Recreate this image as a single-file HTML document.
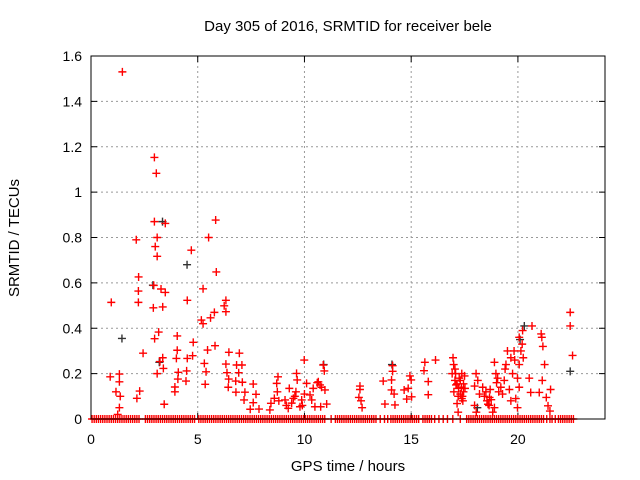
<!DOCTYPE html>
<html><head><meta charset="utf-8"><style>
body{margin:0;background:#fff}
svg{display:block;font-family:"Liberation Sans",sans-serif}
</style></head><body>
<svg id="chart" width="640" height="480" viewBox="0 0 640 480">
<text x="348" y="31" text-anchor="middle" font-size="15">Day 305 of 2016, SRMTID for receiver bele</text>
<text x="348" y="471" text-anchor="middle" font-size="15">GPS time / hours</text>
<text transform="translate(19,238) rotate(-90)" text-anchor="middle" font-size="15">SRMTID / TECUs</text>
<g id="grid"></g><g id="ticks"></g><g id="pts"></g>
<rect x="91" y="56" width="514" height="363" fill="none" stroke="#000" stroke-width="1"/>
</svg>
<script>
const xTicks=[0,5,10,15,20];
const yTicks=[0,0.2,0.4,0.6,0.8,1,1.2,1.4,1.6];
const yTickLabels=["0","0.2","0.4","0.6","0.8","1","1.2","1.4","1.6"];
const redX=[1.47,2.97,3.06,2.97,3.48,2.12,3.1,3.01,3.1,5.84,5.51,4.7,5.87,2.23,2.22,2.22,0.95,2.94,3.28,3.48,2.92,3.36,4.51,5.25,5.17,5.25,5.6,5.78,6.24,6.32,6.32,3.17,2.98,4.04,4.79,5.46,5.81,2.44,4.04,3.36,3.23,3.39,4.0,4.51,4.76,4.09,4.48,5.31,5.39,3.1,4.07,4.45,5.35,3.93,3.93,0.9,1.33,1.33,1.17,1.37,2.28,2.15,3.43,1.33,1.25,
6.46,6.95,6.32,6.82,7.07,6.37,6.92,6.45,6.78,7.09,6.43,6.79,7.21,7.6,7.17,7.73,7.46,7.87,7.6,
8.76,8.7,8.73,8.43,8.59,8.38,9.09,9.24,9.48,9.6,9.63,9.66,9.99,9.79,9.87,10.1,10.26,10.41,10.49,10.65,10.73,10.88,10.93,10.96,11.04,10.76,10.34,9.29,9.4,9.55,9.9,10.0,10.6,10.8,8.8,9.15,
12.6,12.6,12.55,12.65,12.7,13.69,13.77,14.13,14.13,14.08,14.08,14.2,14.24,14.67,14.79,14.86,14.94,15.0,15.02,15.64,15.6,15.8,15.8,16.14,
16.96,16.99,16.92,17.05,17.15,17.22,17.3,17.37,17.45,17.37,17.52,17.15,17.2,17.08,17.3,17.4,17.0,17.1,17.25,17.45,17.5,17.35,17.05,17.2,17.42,
18.04,18.12,17.97,18.2,17.97,18.05,18.35,18.43,18.6,18.67,18.75,18.9,18.97,19.05,18.9,18.82,19.2,19.28,19.44,19.51,19.36,19.6,19.67,19.98,19.9,20.06,20.22,20.14,20.06,19.98,20.06,19.82,19.67,20.66,20.53,20.6,21.09,21.12,21.17,21.25,21.14,21.0,21.33,21.41,21.5,21.53,22.45,22.45,22.56,18.5,18.55,18.7,18.65,19.0,19.1,19.4,19.75,19.85,20.2,20.25];
const redY=[1.53,1.153,1.083,0.87,0.862,0.79,0.8,0.76,0.717,0.877,0.8,0.744,0.648,0.626,0.564,0.514,0.514,0.589,0.573,0.558,0.49,0.494,0.523,0.574,0.436,0.42,0.446,0.47,0.499,0.523,0.473,0.383,0.354,0.366,0.338,0.304,0.323,0.29,0.303,0.27,0.253,0.223,0.267,0.267,0.279,0.206,0.212,0.245,0.208,0.2,0.176,0.167,0.153,0.141,0.12,0.186,0.198,0.164,0.12,0.1,0.123,0.091,0.065,0.05,0.02,
0.294,0.29,0.242,0.238,0.238,0.204,0.204,0.176,0.167,0.162,0.14,0.118,0.118,0.154,0.084,0.109,0.043,0.044,0.072,
0.186,0.157,0.12,0.069,0.091,0.04,0.084,0.047,0.091,0.12,0.201,0.172,0.26,0.054,0.084,0.157,0.106,0.135,0.054,0.164,0.15,0.238,0.212,0.128,0.066,0.054,0.084,0.135,0.07,0.1,0.06,0.11,0.16,0.14,0.08,0.06,
0.145,0.13,0.095,0.08,0.05,0.167,0.066,0.235,0.21,0.172,0.128,0.11,0.062,0.128,0.088,0.135,0.19,0.172,0.098,0.25,0.213,0.165,0.107,0.26,
0.27,0.24,0.2,0.17,0.155,0.135,0.11,0.09,0.155,0.2,0.135,0.068,0.03,0.2,0.17,0.1,0.12,0.15,0.18,0.12,0.19,0.14,0.22,0.1,0.08,
0.2,0.17,0.145,0.11,0.06,0.03,0.14,0.1,0.065,0.095,0.085,0.25,0.2,0.18,0.05,0.03,0.14,0.11,0.24,0.3,0.17,0.13,0.08,0.05,0.09,0.36,0.39,0.3,0.24,0.18,0.14,0.3,0.27,0.41,0.18,0.117,0.375,0.36,0.32,0.24,0.17,0.117,0.095,0.058,0.035,0.13,0.47,0.41,0.28,0.12,0.08,0.13,0.06,0.16,0.12,0.22,0.2,0.26,0.33,0.27];
const blackX=[2.9,3.2,4.5,1.45,20.3,22.45,14.1,10.9,18.1,3.35,20.1];
const blackY=[0.59,0.25,0.68,0.355,0.41,0.21,0.24,0.24,0.05,0.87,0.35];
const zeroX=[0.05,0.15,0.25,0.35,0.45,0.55,0.65,0.75,0.85,0.95,1.05,1.15,1.25,1.35,1.45,1.55,1.65,1.75,1.85,1.95,2.05,2.15,2.25,2.55,2.65,2.75,2.85,2.95,3.05,3.15,3.25,3.35,3.45,3.55,3.65,3.75,3.85,3.95,4.05,4.15,4.25,4.35,4.45,4.55,4.65,4.75,4.85,5.05,5.15,5.25,5.35,5.45,5.55,5.65,5.75,5.85,5.95,6.05,6.15,6.25,6.35,6.45,6.55,6.65,6.75,6.85,6.95,7.05,7.15,7.25,7.35,7.45,7.55,7.65,7.75,7.85,7.95,8.05,8.15,8.25,8.35,8.45,8.55,8.65,8.75,8.85,8.95,9.05,9.15,9.25,9.35,9.45,9.55,9.65,9.75,9.85,9.95,10.05,10.15,10.25,10.35,10.45,10.55,10.65,10.75,10.85,10.95,11.25,11.45,11.55,11.65,11.75,11.85,11.95,12.05,12.15,12.25,12.35,12.45,12.55,12.65,12.75,12.85,12.95,13.05,13.15,13.25,13.35,13.55,13.75,13.9,14.05,14.15,14.25,14.35,14.45,14.55,14.65,14.75,14.85,14.95,15.05,15.15,15.25,15.35,15.55,15.65,15.75,15.85,15.95,16.1,16.3,16.5,16.7,16.95,17.3,17.6,17.7,17.8,17.9,18.0,18.1,18.2,18.3,18.4,18.5,18.6,18.7,18.8,18.9,19.0,19.1,19.2,19.3,19.4,19.5,19.6,19.7,19.8,19.9,20.0,20.1,20.2,20.3,20.4,20.5,20.6,20.7,20.8,20.9,21.0,21.1,21.2,21.35,21.5,21.6,21.75,21.9,22.0,22.1,22.2,22.3,22.4,22.5,22.6];
const NS="http://www.w3.org/2000/svg";
const L=91,R=605,T=56,B=419,XMAX=24.08,YMAX=1.6;
function sx(v){return L+v/XMAX*(R-L);}
function sy(v){return B-v/YMAX*(B-T);}
function mk(tag,attrs,parent){const e=document.createElementNS(NS,tag);for(const k in attrs)e.setAttribute(k,attrs[k]);parent.appendChild(e);return e;}
const grid=document.getElementById('grid'),ticks=document.getElementById('ticks'),pts=document.getElementById('pts');
xTicks.forEach(v=>{const x=sx(v);
 if(v>0){const g=mk('line',{x1:x,x2:x,y1:T,y2:B,stroke:'#999','stroke-dasharray':'2,3'},grid);
 
 }
 mk('line',{x1:x,x2:x,y1:B,y2:B-6,stroke:'#000'},ticks);
 mk('line',{x1:x,x2:x,y1:T,y2:T+6,stroke:'#000'},ticks);
 const t=mk('text',{x:x,y:B+25,'text-anchor':'middle','font-size':'14'},ticks);t.textContent=v;
 
 
});
yTicks.forEach((v,i)=>{const y=sy(v);
 if(v>0){const g=mk('line',{x1:L,x2:R,y1:y,y2:y,stroke:'#999','stroke-dasharray':'2,3'},grid);
 
 }
 mk('line',{x1:L,x2:L+6,y1:y,y2:y,stroke:'#000'},ticks);
 mk('line',{x1:R,x2:R-6,y1:y,y2:y,stroke:'#000'},ticks);
 const t=mk('text',{x:L-9,y:y+5,'text-anchor':'end','font-size':'14'},ticks);t.textContent=yTickLabels[i];
 
 
});
function plus(x,y,c){const px=sx(x),py=sy(y);
 const p=mk('path',{d:`M${px-4},${py}H${px+4}M${px},${py-4}V${py+4}`,stroke:c,'stroke-width':'1.4',fill:'none'},pts);
 
 }
blackX.forEach((x,i)=>plus(x,blackY[i],'#333'));
redX.forEach((x,i)=>plus(x,redY[i],'#f00'));
zeroX.forEach(x=>plus(x,0,'#f00'));
</script>
</body></html>
